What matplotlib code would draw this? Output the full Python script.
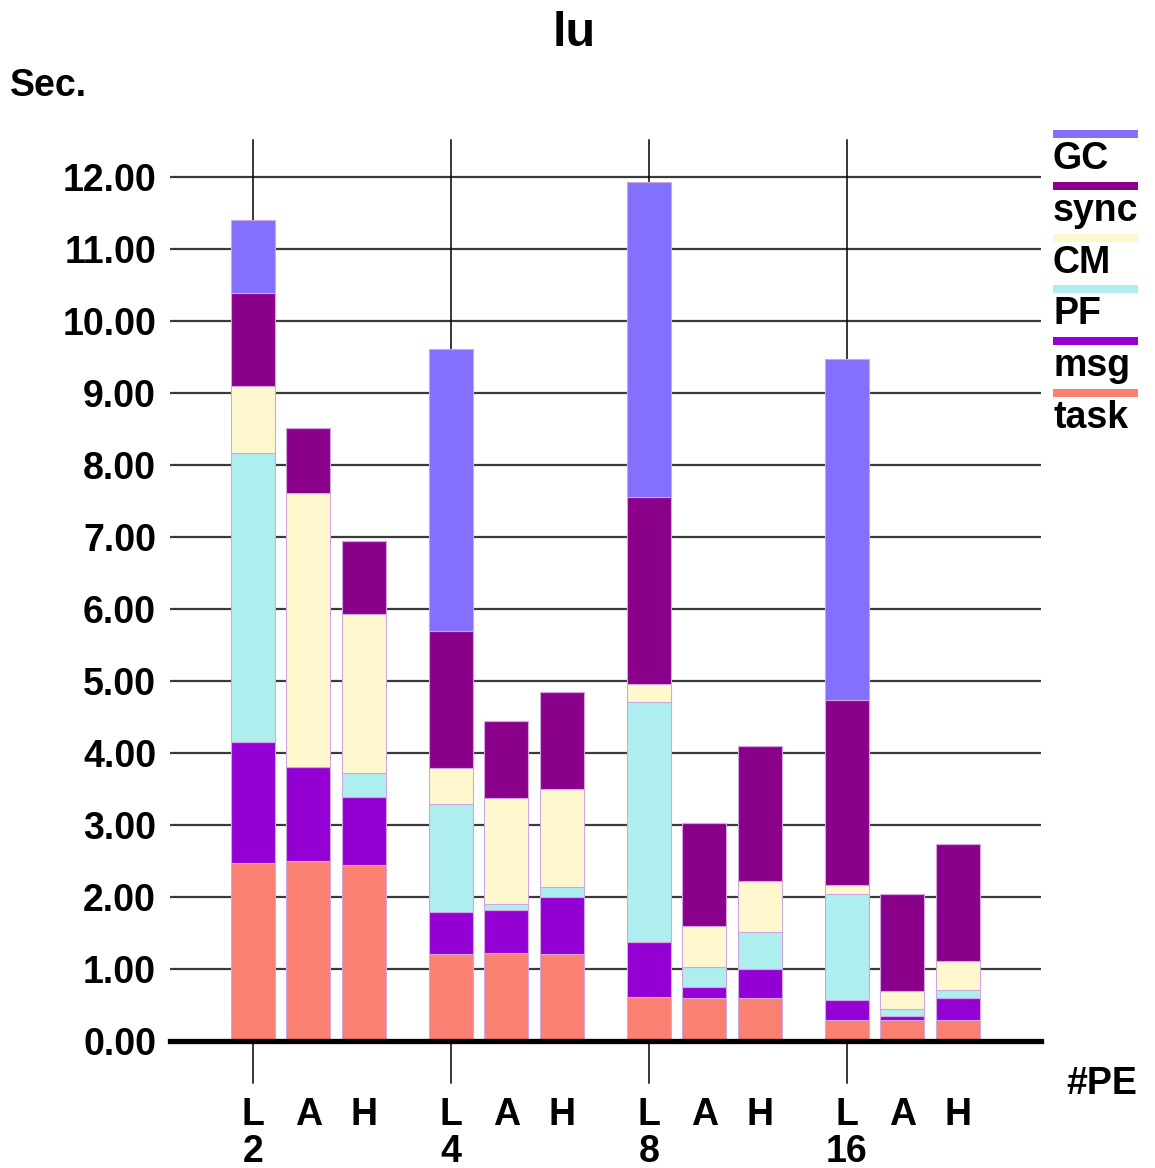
import matplotlib
matplotlib.use("Agg")
import matplotlib.pyplot as plt
from matplotlib.patches import Rectangle
import numpy as np

plt.rcParams['font.family'] = ['Liberation Sans', 'DejaVu Sans']
plt.rcParams['font.weight'] = 'bold'

# ---- data ----
pe_labels = ["2", "4", "8", "16"]
variants = ["L", "A", "H"]
components = ["task", "msg", "PF", "CM", "sync", "GC"]
colors = {"task": "#FA8072", "msg": "#9400D3", "PF": "#AFEEEE",
          "CM": "#FFF8CF", "sync": "#8B008B", "GC": "#8470FF"}

# order of bars: L2 A2 H2 L4 A4 H4 L8 A8 H8 L16 A16 H16
task = [2.47, 2.50, 2.44, 1.21, 1.22, 1.21, 0.61, 0.60, 0.60, 0.29, 0.29, 0.29]
msg  = [1.68, 1.31, 0.95, 0.58, 0.60, 0.79, 0.77, 0.15, 0.40, 0.28, 0.06, 0.31]
PF   = [4.02, 0.00, 0.33, 1.50, 0.08, 0.14, 3.33, 0.28, 0.51, 1.47, 0.09, 0.11]
CM   = [0.93, 3.80, 2.21, 0.50, 1.48, 1.36, 0.25, 0.57, 0.71, 0.13, 0.25, 0.40]
sync = [1.29, 0.90, 1.01, 1.90, 1.06, 1.35, 2.59, 1.43, 1.88, 2.57, 1.35, 1.63]
GC   = [1.01, 0.00, 0.00, 3.92, 0.00, 0.00, 4.38, 0.00, 0.00, 4.73, 0.00, 0.00]
series = {"task": task, "msg": msg, "PF": PF, "CM": CM, "sync": sync, "GC": GC}

yticks = [0, 1, 2, 3, 4, 5, 6, 7, 8, 9, 10, 11, 12]

FS = 27

# ---- figure ----
W, H = 1155, 1168
fig = plt.figure(figsize=(W / 100, H / 100), dpi=100)
ax = fig.add_axes([170 / W, 1 - 1041 / H, (1041 - 170) / W, (1041 - 140) / H])

group_gap = 3.57
xs = np.array([g * group_gap + i for g in range(len(pe_labels)) for i in range(len(variants))])
ymax = 12.51
ax.set_xlim(-1.49, 14.21)
ax.set_ylim(0, ymax)

# horizontal gridlines
for t in yticks[1:]:
    ax.axhline(t, color="#3a3a3a", lw=1.6, zorder=1)

# vertical lines at L positions (extend below axis)
for g in range(len(pe_labels)):
    xl = g * group_gap
    ax.plot([xl, xl], [-0.58, ymax], color="black", lw=1.1, zorder=1, clip_on=False)

bottom = np.zeros(len(xs))
for c in components:
    vals = np.array(series[c])
    ax.bar(xs, vals, bottom=bottom, width=0.79, color=colors[c],
           edgecolor="#cfa6dd", linewidth=0.8, zorder=2)
    bottom += vals

# thick baseline
ax.axhline(0, color="black", lw=3.8, zorder=4, clip_on=False)

for s in ax.spines.values():
    s.set_visible(False)

ax.set_yticks(yticks)
ax.set_yticklabels([f"{t:.2f}" for t in yticks], fontsize=FS, fontweight="bold")
ax.tick_params(axis="y", length=0, pad=10)
ax.set_xticks([])

# x labels
for x, lab in zip(xs, [v for _ in pe_labels for v in variants]):
    ax.text(x, -1.03, lab, ha="center", va="center", fontsize=FS, fontweight="bold")
for g, p in enumerate(pe_labels):
    ax.text(g * group_gap, -1.54, p, ha="center", va="center", fontsize=FS, fontweight="bold")

fig.text(1137 / W, 1 - 1084 / H, "#PE", ha="right", va="center", fontsize=FS, fontweight="bold")
fig.text(10 / W, 1 - 86 / H, "Sec.", ha="left", va="center", fontsize=FS, fontweight="bold")
fig.text(0.497, 1 - 33 / H, "lu", ha="center", va="center", fontsize=35, fontweight="bold")

# legend
leg_order = ["GC", "sync", "CM", "PF", "msg", "task"]
for k, c in enumerate(leg_order):
    yb = 134 + k * 51.8
    fig.patches.append(Rectangle((1053 / W, 1 - (yb + 4) / H), 85 / W, 8 / H,
                                 transform=fig.transFigure, facecolor=colors[c],
                                 edgecolor="none"))
    fig.text(1053 / W, 1 - (yb + 25) / H, c, ha="left", va="center",
             fontsize=FS, fontweight="bold")

fig.savefig("out.png", dpi=100)
